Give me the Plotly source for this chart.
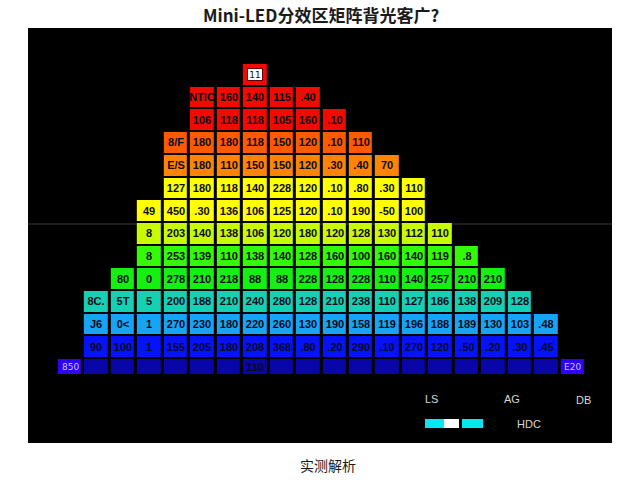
import plotly.graph_objects as go

title = "Mini-LED分效区矩阵背光客广?"
xlabel = "实测解析"
n_cols = 20

# first occupied column per row, labels per row, colour level per row
row_start = [7, 5, 5, 4, 4, 4, 3, 3, 3, 2, 1, 1, 1, 0]
row_labels = [
    [""],
    ["NTIC", "160", "140", "115", ".40"],
    ["106", "118", "118", "105", "160", ".10"],
    ["8/F", "180", "180", "118", "150", "120", ".10", "110"],
    ["E/S", "180", "110", "150", "150", "120", ".30", ".40", "70"],
    ["127", "180", "118", "140", "228", "120", ".10", ".80", ".30", "110"],
    ["49", "450", ".30", "136", "106", "125", "120", ".10", "190", "-50", "100"],
    ["8", "203", "140", "138", "106", "120", "180", "120", "128", "130", "112", "110"],
    ["8", "253", "139", "110", "138", "140", "128", "160", "100", "160", "140", "119", ".8"],
    ["80", "0", "278", "210", "218", "88", "88", "228", "128", "228", "110", "140", "257", "210", "210"],
    ["8C.", "5T", "5", "200", "188", "210", "240", "280", "128", "210", "238", "110", "127", "186", "138", "209", "128"],
    ["J6", "0<", "1", "270", "230", "180", "220", "260", "130", "190", "158", "119", "196", "188", "189", "130", "103", ".48"],
    ["90", "100", "1", "155", "205", "180", "208", "368", ".80", ".20", "290", ".10", "270", "120", ".50", ".20", ".30", ".45"],
    ["", "", "", "", "", "", "", "110", "", "", "", "", "", "", "", "", "", "", "", ""],
]
row_level = [11, 11, 11, 10, 9, 8, 8, 7, 6, 5.6, 4, 3, 2, 0]
row_weight = [1, 1, 1, 1, 1, 1, 1, 1, 1, 1, 1, 1, 1, 0.75]
end_labels = {"left": "850", "right": "E20"}
end_level = 1
legend_labels = ["LS", "AG", "DB", "HDC"]

# pixel layout of the black panel
W, H = 640, 480
PL, PR, PT, PB = 28, 612, 28, 443
CELL_X0, CELL_W = 56.8, 26.45
CELL_Y0, CELL_H = 63.0, 22.7

x_edges = list(range(n_cols + 1))
y_edges = [0.0]
for w in row_weight:
    y_edges.append(y_edges[-1] + w)

z, text = [], []
for r, labels in enumerate(row_labels):
    zrow = [None] * n_cols
    trow = [""] * n_cols
    for i, lab in enumerate(labels):
        c = row_start[r] + i
        zrow[c] = row_level[r]
        trow[c] = lab
    z.append(zrow)
    text.append(trow)
z[13][0] = end_level
z[13][19] = end_level

colors = [
    [0 / 11, "#0806a8"], [1 / 11, "#3000f4"], [2 / 11, "#0612f8"], [3 / 11, "#18a4f4"],
    [4 / 11, "#16d0b4"], [5.6 / 11, "#14f010"], [6 / 11, "#34fa04"], [7 / 11, "#c8fa00"],
    [8 / 11, "#ffff00"], [9 / 11, "#ff8400"], [10 / 11, "#ff5a00"], [1, "#f00a00"],
]

fig = go.Figure(go.Heatmap(
    x=x_edges, y=y_edges, z=z, text=text, texttemplate="%{text}",
    textfont=dict(family="Liberation Sans", size=11, color="#0a0a1a", weight="bold"),
    colorscale=colors, zmin=0, zmax=11, showscale=False, xgap=3, ygap=2,
    hoverongaps=False,
))

x_range = [(PL - CELL_X0) / CELL_W, (PR - CELL_X0) / CELL_W]
y_range = [(PB - CELL_Y0) / CELL_H, (PT - CELL_Y0) / CELL_H]

def px(x):
    return (x - PL) / (PR - PL)

def py(y):
    return (PB - y) / (PB - PT)

annotations = [
    dict(x=7.5, y=0.5, text="11", showarrow=False, bgcolor="white", bordercolor="#600000", borderwidth=1,
         font=dict(family="DejaVu Sans", size=9, color="#101010"), width=14, height=11, borderpad=0),
    dict(x=0.5, y=13.37, text=end_labels["left"], showarrow=False, font=dict(family="DejaVu Sans", size=9, color="#c8c8f0")),
    dict(x=19.5, y=13.37, text=end_labels["right"], showarrow=False, font=dict(family="DejaVu Sans", size=9, color="#c8c8f0")),
]
for lab, lx, ly in zip(legend_labels, [431, 512, 583, 529], [399, 399, 400, 424]):
    annotations.append(dict(xref="paper", yref="paper", x=px(lx), y=py(ly), text=lab, showarrow=False,
                            xanchor="center", yanchor="middle",
                            font=dict(family="Liberation Sans", size=11, color="#d8d8d8")))
annotations.append(dict(xref="paper", yref="paper", x=px(321), y=py(15), text="<b>" + title + "</b>", showarrow=False,
                        xanchor="center", yanchor="middle",
                        font=dict(family="Noto Sans CJK SC", size=17, color="#1a1a1a")))
annotations.append(dict(xref="paper", yref="paper", x=px(328), y=py(465), text=xlabel, showarrow=False,
                        xanchor="center", yanchor="middle",
                        font=dict(family="Noto Sans CJK SC", size=14, color="#1a1a1a")))

shapes = [
    dict(type="line", xref="paper", yref="paper", x0=0, x1=1, y0=py(224), y1=py(224),
         line=dict(color="#3a3a3a", width=1), layer="below"),
]
for x0, x1, col in [(425, 444, "#00e8f0"), (444, 459, "#ffffff"), (462, 483, "#00e8f0")]:
    shapes.append(dict(type="rect", xref="paper", yref="paper", x0=px(x0), x1=px(x1), y0=py(428), y1=py(419),
                       fillcolor=col, line=dict(width=0)))

fig.update_layout(
    width=W, height=H, margin=dict(l=PL, r=W - PR, t=PT, b=H - PB), paper_bgcolor="white", plot_bgcolor="black",
    xaxis=dict(range=x_range, visible=False, showgrid=False),
    yaxis=dict(range=y_range, visible=False, showgrid=False),
    annotations=annotations, shapes=shapes, showlegend=False,
)
fig.write_html("out.html", config={"displayModeBar": False},
               post_script="document.body.style.margin='0';document.documentElement.style.overflow='hidden';")
